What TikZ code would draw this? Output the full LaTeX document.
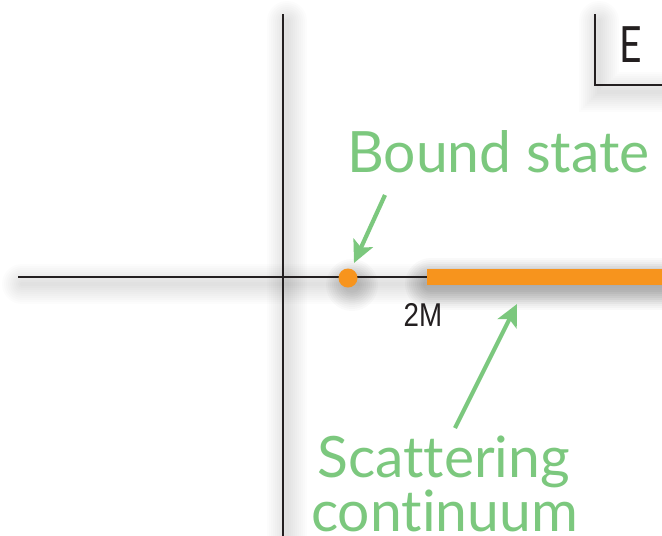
\documentclass[tikz,border=0pt]{standalone}
\usepackage{fontspec}
\setmainfont{Lato}[Ligatures=NoCommon]
\newfontfamily\tickfont{Liberation Sans}
\usetikzlibrary{arrows.meta}
\definecolor{axisink}{HTML}{231F20}
\definecolor{leafgreen}{HTML}{7CC87E}
\definecolor{pumpkin}{HTML}{F7941D}

\tikzset{
  axisline/.style={draw=axisink, line width=2.4pt},
  callout/.style={draw=leafgreen, line width=4.2pt,
    -{Stealth[length=22pt, width=21pt, inset=5pt]}},
  greenlabel/.style={text=leafgreen, inner sep=0pt, anchor=base west,
    font=\fontsize{57}{60}\selectfont},
  % soft drop shadow built from stacked translucent strokes
  haze/.style={draw=black, opacity=#1, line cap=round,
    transform canvas={shift={(4pt,-7pt)}}},
}

\begin{document}
\begin{tikzpicture}[x=1pt, y=-1pt]
  \useasboundingbox[fill=white] (0,0) rectangle (662,536);

  % key points
  \coordinate (hL) at (18,277);
  \coordinate (hR) at (662,277);
  \coordinate (vT) at (283,14);
  \coordinate (vB) at (283,536);
  \coordinate (eT) at (595,14);
  \coordinate (eC) at (595,85);
  \coordinate (eR) at (662,85);
  \coordinate (cL) at (427,277);
  \coordinate (cR) at (662,277);

  % shadows
  \foreach \w in {4,8,...,40} {
    \draw[haze=0.011, line width=\w pt] (hL) -- (hR);
    \draw[haze=0.011, line width=\w pt] (vT) -- (vB);
    \draw[haze=0.011, line width=\w pt] (eT) -- (eC) -- (eR);
  }
  \foreach \w in {16,20,...,52} {
    \draw[haze=0.022, line width=\w pt] (cL) -- (cR);
    \fill[black, opacity=0.02, transform canvas={shift={(4pt,-7pt)}}]
      (348,278) circle (\w/2 pt);
  }

  % axes
  \draw[axisline] (hL) -- (hR);
  \draw[axisline] (vT) -- (vB);

  % E box
  \draw[axisline] (eT) -- (eC) -- (eR);
  \node[inner sep=0pt, anchor=base, text=axisink,
        font=\fontsize{50}{52}\selectfont] (elabel) at (631,62) {\scalebox{0.78}[1]{E}};

  % continuum and bound state
  \draw[draw=pumpkin, line width=16pt] (cL) -- (cR);
  \node[circle, fill=pumpkin, inner sep=0pt, minimum size=19pt] (bound) at (348,278) {};

  % threshold label
  \node[inner sep=0pt, anchor=base, text=axisink,
        font=\tickfont\fontsize{33}{35}\selectfont] (twoM) at (423,326) {\scalebox{0.84}[1]{2M}};

  % green labels
  \node[greenlabel] (boundlabel) at (347,172) {Bound state};
  \node[greenlabel] (scatlabel) at (317,477) {Scattering};
  \node[greenlabel] (contlabel) at (311,531) {continuum};

  % callout arrows
  \coordinate (a1) at (385,195);
  \coordinate (a1tip) at (354,263);
  \coordinate (a2) at (455,428);
  \coordinate (a2tip) at (517,304);
  \draw[callout] (a1) -- (a1tip);
  \draw[callout] (a2) -- (a2tip);
\end{tikzpicture}
\end{document}
